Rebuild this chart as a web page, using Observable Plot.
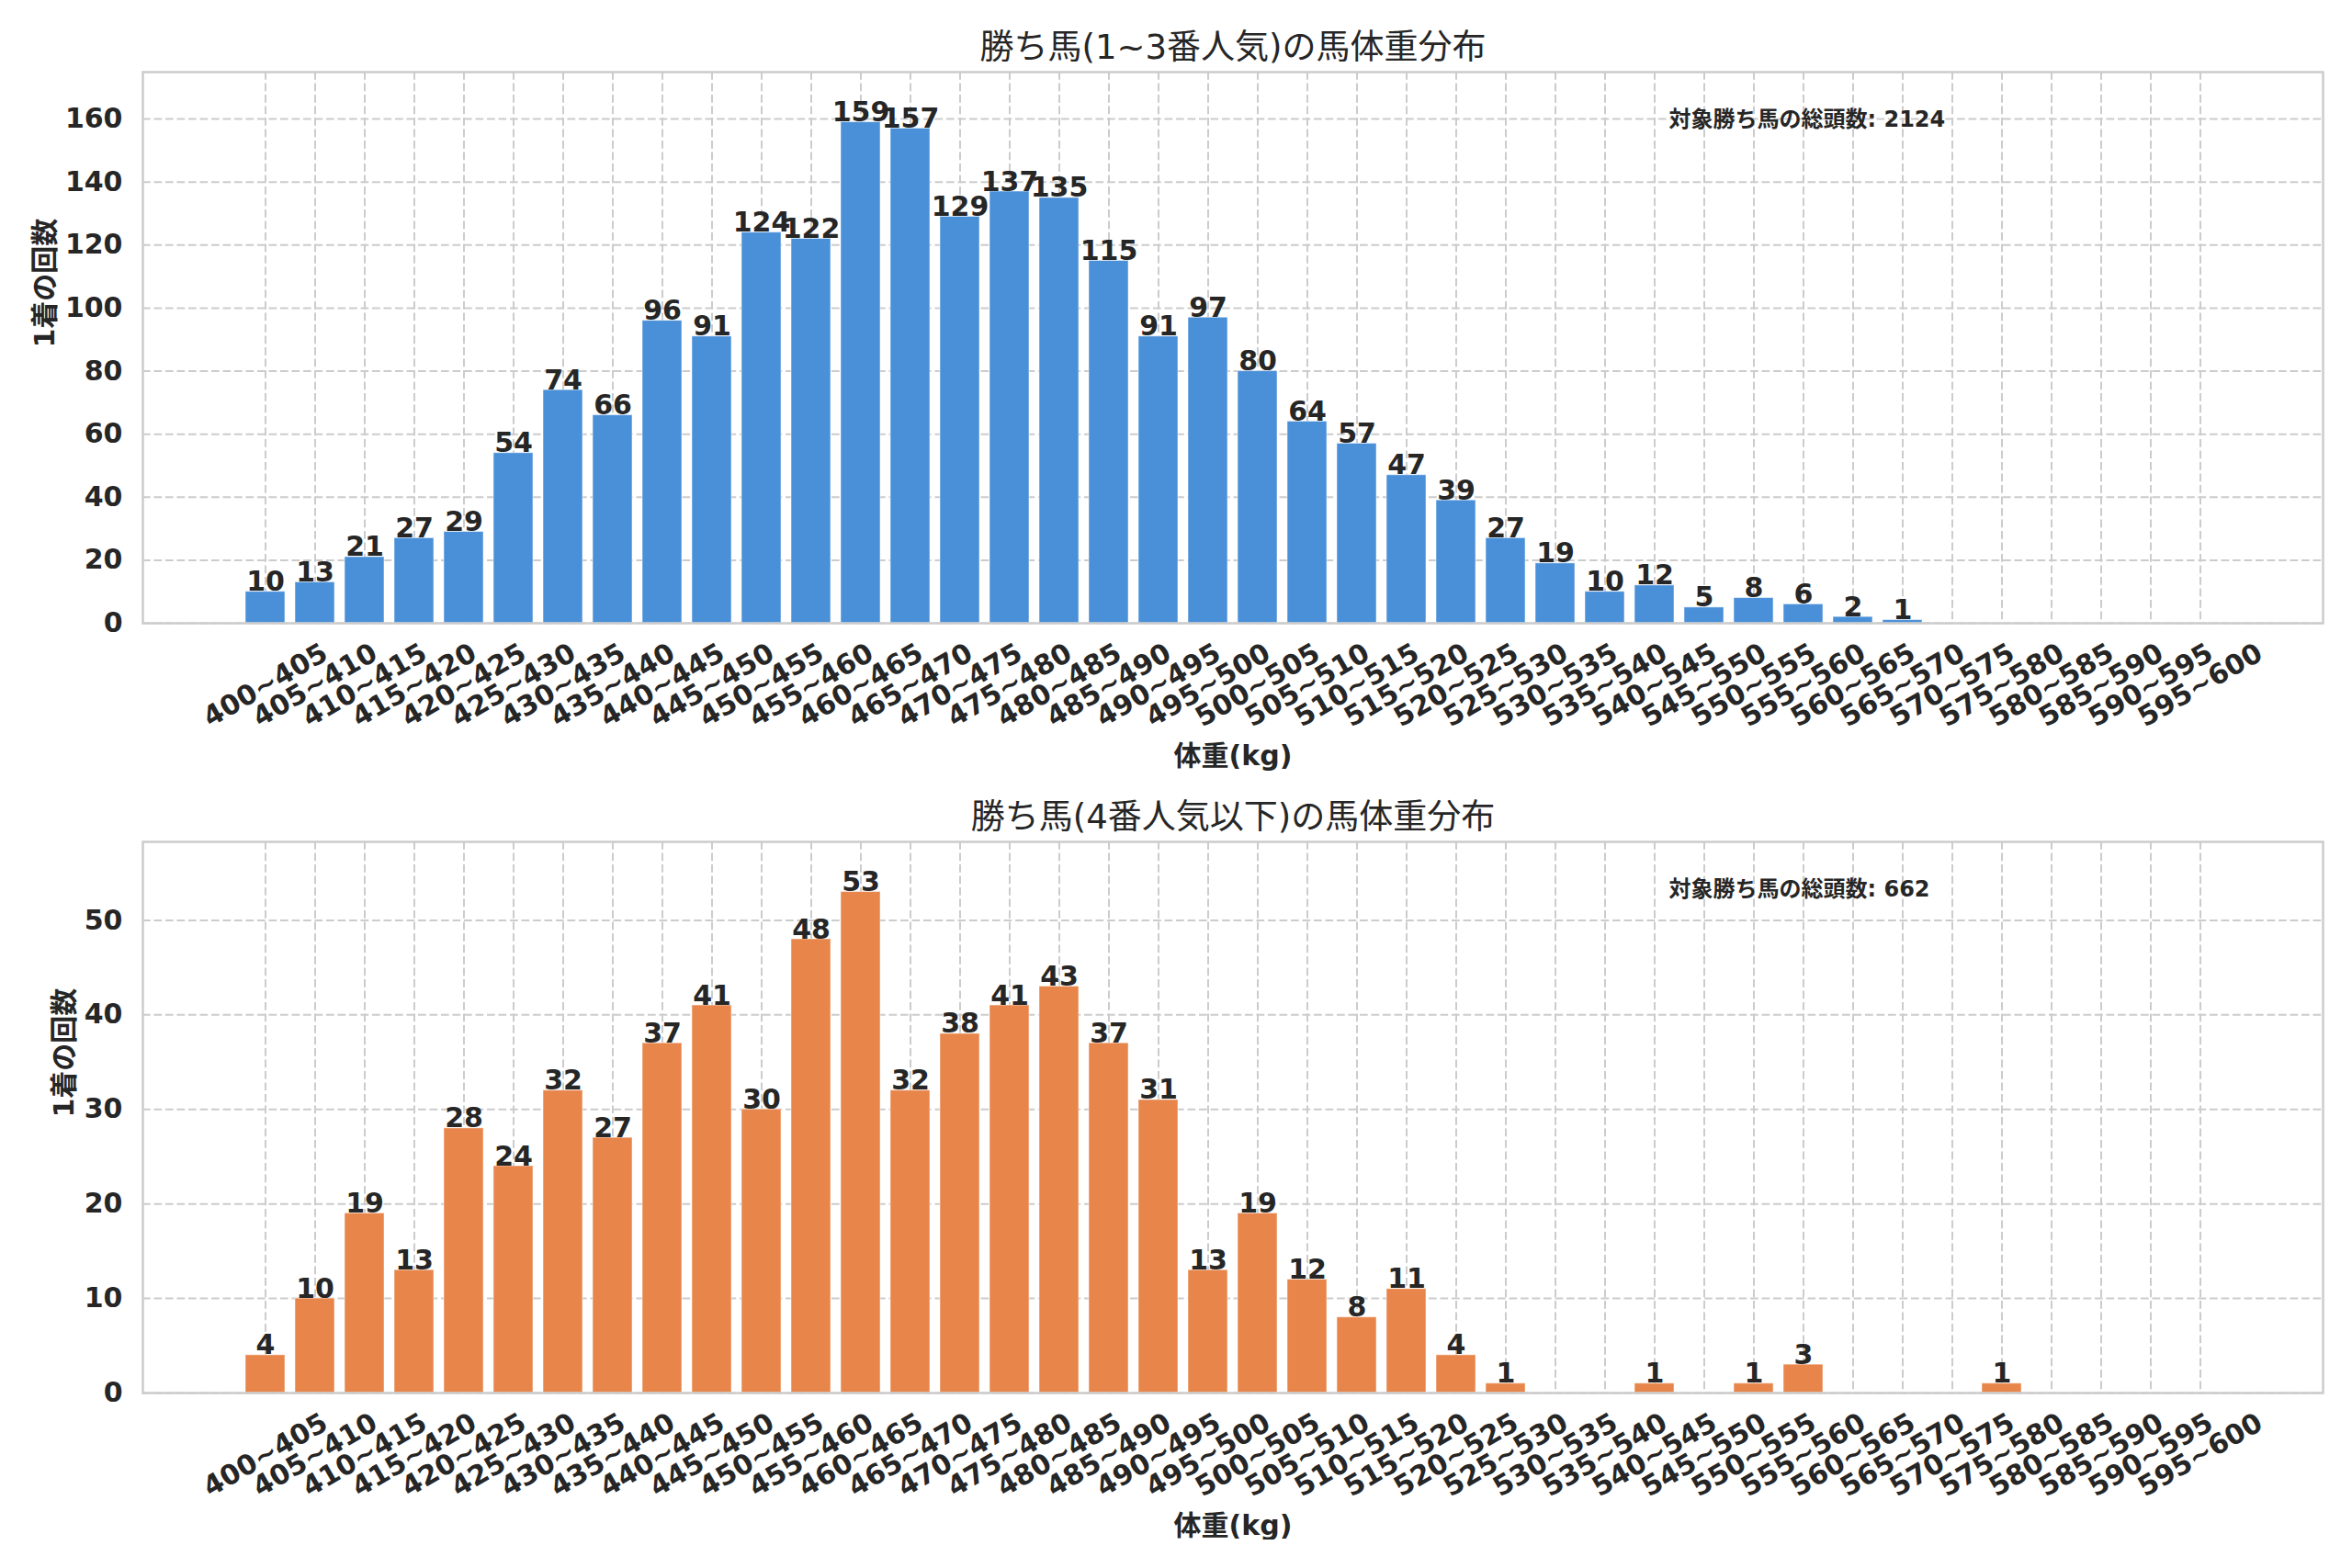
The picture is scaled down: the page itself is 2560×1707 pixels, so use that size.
<!DOCTYPE html>
<html>
<head>
<meta charset="utf-8">
<script src="https://cdn.jsdelivr.net/npm/d3@7"></script>
<script src="https://cdn.jsdelivr.net/npm/@observablehq/plot@0.6"></script>
<style>
  html, body { margin: 0; padding: 0; background: #ffffff; }
  #chart { width: 2560px; }
</style>
</head>
<body>
<div id="chart"></div>
<script>
// ---- data ----
const bins = [
  "400~405","405~410","410~415","415~420","420~425","425~430","430~435","435~440",
  "440~445","445~450","450~455","455~460","460~465","465~470","470~475","475~480",
  "480~485","485~490","490~495","495~500","500~505","505~510","510~515","515~520",
  "520~525","525~530","530~535","535~540","540~545","545~550","550~555","555~560",
  "560~565","565~570","570~575","575~580","580~585","585~590","590~595","595~600"
];
const countsTop = [
  10, 13, 21, 27, 29, 54, 74, 66, 96, 91, 124, 122, 159, 157, 129, 137,
  135, 115, 91, 97, 80, 64, 57, 47, 39, 27, 19, 10, 12, 5, 8, 6,
  2, 1, 0, 0, 0, 0, 0, 0
];
const countsBottom = [
  4, 10, 19, 13, 28, 24, 32, 27, 37, 41, 30, 48, 53, 32, 38, 41,
  43, 37, 31, 13, 19, 12, 8, 11, 4, 1, 0, 0, 1, 0, 1, 3,
  0, 0, 0, 1, 0, 0, 0, 0
];
const yTicksTop = [0, 20, 40, 60, 80, 100, 120, 140, 160];
const yTicksBottom = [0, 10, 20, 30, 40, 50];
const titleTop = "勝ち馬(1~3番人気)の馬体重分布";
const titleBottom = "勝ち馬(4番人気以下)の馬体重分布";
const yLabel = "1着の回数";
const xLabel = "体重(kg)";
const totalLabel = "対象勝ち馬の総頭数";
const colorTop = "#4a90d9";
const colorBottom = "#e8854a";

// ---- drawing ----
const FONT = "'DejaVu Sans', 'Noto Sans CJK JP', sans-serif";
const GRID = {stroke: "#cccccc", strokeOpacity: 1, strokeWidth: 2, strokeDasharray: "8.7,3.8"};

function panel(counts, yTicks, title, color, yLabelOffset) {
  const data = bins.map((bin, i) => ({bin, count: counts[i]}));
  const nz = data.filter(d => d.count > 0);
  const total = d3.sum(counts);
  const ymax = d3.max(counts) * 1.1;
  return Plot.plot({
    width: 2560,
    height: 838,
    marginTop: 78,
    marginBottom: 160,
    marginLeft: 155,
    marginRight: 32,
    style: {fontFamily: FONT, fontSize: "30px", fontWeight: "bold", color: "#262626", background: "#ffffff", overflow: "visible"},
    x: {type: "band", domain: bins, paddingInner: 0.2, paddingOuter: 1.99, axis: null},
    y: {domain: [0, ymax], axis: null},
    marks: [
      Plot.gridX(GRID),
      Plot.gridY(yTicks, GRID),
      Plot.barY(nz, {x: "bin", y: "count", fill: color, stroke: "#ffffff", strokeOpacity: 0.5, strokeWidth: 1}),
      Plot.text(nz, {x: "bin", y: "count", text: d => String(d.count), lineAnchor: "bottom", dy: -1}),
      Plot.axisY(yTicks, {tickSize: 0, tickPadding: 22, label: null}),
      Plot.text(bins, {x: d => d, frameAnchor: "bottom", dy: 67.5, rotate: -30, textAnchor: "middle", lineAnchor: "middle"}),
      Plot.text([title], {frameAnchor: "top", dy: -15, lineAnchor: "bottom", fontSize: 37, fontWeight: "normal"}),
      Plot.text([xLabel], {frameAnchor: "bottom", dy: 154, lineAnchor: "bottom"}),
      Plot.text([yLabel], {frameAnchor: "left", dx: yLabelOffset, rotate: -90, lineAnchor: "middle"}),
      Plot.text([`${totalLabel}: ${total}`], {frameAnchor: "top-left", dx: 1661, dy: 59.5, textAnchor: "start", lineAnchor: "bottom", fontSize: 24}),
      Plot.frame({stroke: "#cccccc", strokeWidth: 2.5})
    ]
  });
}

const root = document.getElementById("chart");
root.appendChild(panel(countsTop, yTicksTop, titleTop, colorTop, -106));
root.appendChild(panel(countsBottom, yTicksBottom, titleBottom, colorBottom, -85));
</script>
</body>
</html>
